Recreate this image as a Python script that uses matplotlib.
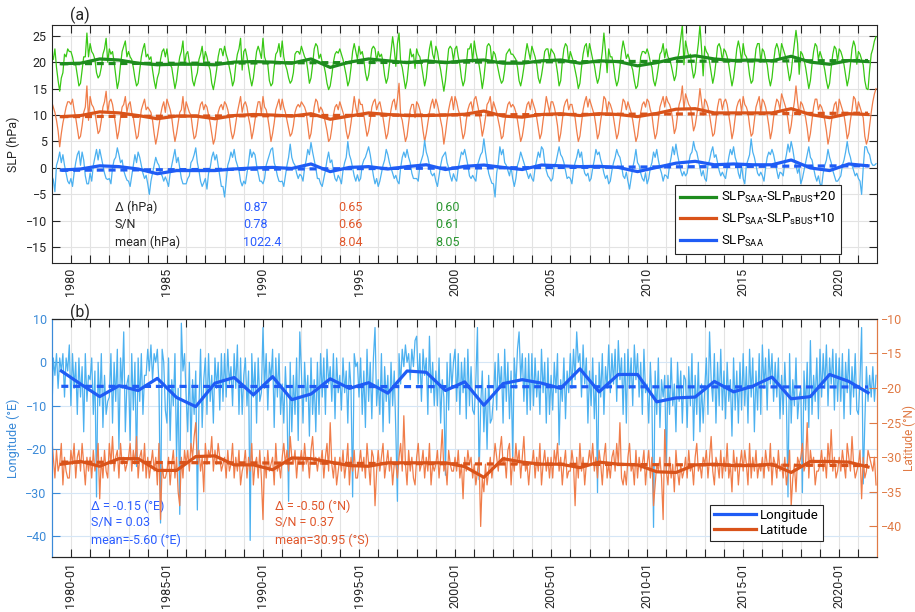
import numpy as np
import matplotlib
matplotlib.use("Agg")
import matplotlib.pyplot as plt

plt.rcParams["font.family"] = ["Roboto", "DejaVu Sans"]
plt.rcParams["mathtext.fontset"] = "custom"
plt.rcParams["mathtext.rm"] = "Roboto"
plt.rcParams["mathtext.it"] = "Roboto:italic"
plt.rcParams["font.size"] = 9

# ---- data (monthly, Jan 1979 .. Dec 2021, one row per year) ------------------
first_year = 1979
years = list(range(1979, 2022))

# SLP_SAA anomaly (hPa)
slp_saa = [
    [-1.5, -2.2, -4.5, 0.5, 1.5, 3.0, 1.0, 2.5, 0.5, -1.0, -2.5, -3.0],
    [-2.0, -3.5, -1.0, 1.0, 2.5, 3.2, 0.5, 3.0, 1.5, -1.5, -3.0, -3.0],
    [-1.0, -2.5, 0.5, 2.0, 3.5, 1.5, 3.5, 2.0, 0.5, -1.0, -2.0, -2.2],
    [-2.0, -3.0, 0.0, 1.5, 2.0, 3.8, 2.5, 1.0, 1.5, -0.5, -1.5, -2.3],
    [-2.5, -3.5, -1.5, 0.5, 2.5, 1.0, 3.0, 2.0, 0.5, -1.0, -2.0, -1.4],
    [-3.0, -5.0, -2.5, -1.0, 0.5, 2.0, 1.0, 0.5, -1.0, -1.5, -2.5, -1.7],
    [-2.5, -3.5, -1.0, 0.5, 2.0, 3.5, 1.0, 2.0, 0.0, -2.0, -3.0, -3.0],
    [-3.0, -2.0, -1.5, 1.0, 1.5, 2.5, 3.8, 1.0, -0.5, -2.5, -3.5, -2.8],
    [-2.0, -4.0, -1.0, 0.0, 2.0, 3.0, 1.5, 2.5, 0.5, -1.5, -3.5, -3.5],
    [-5.5, -2.5, 0.5, 1.5, 3.0, 2.0, 3.5, 1.5, 0.5, -0.5, -2.5, -3.4],
    [-2.5, -3.0, -1.0, 1.0, 3.5, 2.0, 3.0, 2.5, 0.5, -1.0, -2.5, -2.5],
    [-3.0, -2.0, 0.5, 1.5, 2.5, 3.5, 3.8, 1.0, 0.0, -1.5, -2.5, -2.6],
    [-2.5, -3.5, -1.5, 0.5, 2.0, 4.5, 2.0, 1.0, 0.5, -1.0, -2.0, -1.2],
    [-1.5, -2.5, 0.0, 1.5, 3.5, 2.5, 4.8, 3.0, 1.5, 0.0, -2.0, -2.0],
    [-3.0, -3.5, -2.0, -0.5, 1.5, 3.0, 1.0, 1.5, -0.5, -2.0, -2.5, -1.4],
    [-2.0, -3.0, -0.5, 1.0, 2.0, 5.0, 2.5, 1.5, 0.0, -1.5, -2.5, -1.3],
    [-2.5, -2.0, 0.5, 1.5, 2.0, 3.0, 4.0, 2.5, 0.5, -1.5, -3.0, -2.0],
    [-3.5, -2.5, -1.0, 0.5, 1.5, 3.5, 2.5, 1.0, 0.0, -1.0, -2.0, -1.4],
    [-2.5, -3.0, 0.0, 2.0, 3.0, 2.0, 3.5, 2.0, 1.0, -1.0, -2.0, -2.0],
    [-2.0, -2.5, 0.5, 1.5, 2.5, 5.2, 3.0, 2.0, 0.5, -1.0, -1.5, -1.0],
    [-2.5, -3.5, -1.5, 0.5, 2.0, 2.5, 3.0, 1.0, 0.0, -1.5, -2.5, -1.1],
    [-2.0, -2.5, 0.0, 1.5, 3.0, 2.5, 3.5, 2.0, 0.5, -1.5, -2.0, -1.4],
    [-2.0, -2.5, 0.5, 1.5, 2.5, 3.0, 5.5, 3.0, 1.0, -1.0, -2.0, -2.9],
    [-3.0, -5.5, -1.0, 1.0, 4.0, 2.5, 3.5, 1.0, 0.5, -0.5, -1.5, 0.2],
    [-2.0, -3.5, -2.0, 0.5, 1.5, 3.0, 2.0, 1.0, 0.0, -1.0, -2.0, -1.1],
    [-2.0, -2.5, 0.0, 1.5, 3.0, 2.0, 4.0, 3.5, 1.0, -0.5, -1.5, -1.9],
    [-2.5, -2.0, 0.5, 1.0, 2.5, 4.0, 2.5, 2.0, 1.0, -0.5, -2.0, -1.7],
    [-2.0, -3.0, -0.5, 1.0, 2.0, 3.5, 2.0, 3.0, 0.5, -1.0, -1.5, -1.0],
    [-2.5, -2.0, 0.0, 1.5, 3.5, 2.5, 3.0, 1.5, 0.5, -1.0, -2.0, -1.4],
    [-3.0, -2.5, -0.5, 1.0, 2.0, 3.5, 2.5, 2.0, 0.5, -1.5, -2.0, -0.8],
    [-2.5, -4.0, -2.0, 0.0, 1.5, 3.5, 1.0, 0.5, -1.0, -2.0, -2.5, -0.9],
    [-3.0, -2.0, 0.0, 1.0, 3.0, 2.0, 3.5, 1.5, 0.0, -1.0, -2.5, -1.3],
    [-1.5, -2.0, 0.5, 2.0, 4.0, 2.5, 4.5, 2.5, 1.0, -0.5, -1.5, -0.7],
    [-1.5, -1.0, 1.0, 2.5, 3.0, 5.0, 3.5, 3.0, 1.5, 0.0, -1.5, -0.5],
    [-2.0, -2.5, 0.5, 1.5, 3.0, 4.0, 2.0, 2.5, 1.0, -0.5, -1.5, -0.8],
    [-1.5, -2.0, 0.0, 2.0, 3.5, 2.5, 4.0, 2.0, 1.0, -1.0, -2.0, 0.5],
    [-2.0, -3.0, 0.5, 1.5, 2.5, 5.5, 3.0, 2.0, 0.5, -1.0, -1.5, -0.8],
    [-1.5, -2.5, 0.0, 2.0, 3.0, 2.5, 3.5, 2.5, 1.0, -0.5, -2.0, -0.8],
    [-1.0, -1.5, 1.0, 2.5, 4.5, 3.0, 5.0, 3.5, 1.5, 0.5, -1.0, 0.0],
    [-3.0, -2.0, -0.5, 1.0, 2.5, 4.0, 2.0, 1.5, 0.0, -1.5, -2.5, -1.5],
    [-3.0, -3.5, -1.0, 0.5, 1.5, 3.5, 2.0, 1.0, -0.5, -1.5, -2.5, -2.5],
    [-2.0, -1.5, 0.5, 1.5, 3.0, 5.0, 3.0, 2.0, 0.5, -0.5, -1.5, -1.0],
    [-2.0, -2.5, -5.0, 0.0, 4.0, 4.0, 3.0, 2.5, 1.0, 0.5, 0.5, 0.8],
]

# SLP_SAA - SLP_nBUS + 20 (hPa)
slp_nbus = [
    [21.7, 20.5, 22.5, 19.0, 16.5, 14.5, 17.0, 18.0, 21.5, 21.0, 22.5, 22.0],
    [22.0, 21.0, 19.5, 19.5, 17.5, 15.5, 16.0, 18.5, 21.0, 21.0, 25.5, 21.0],
    [23.5, 22.0, 21.5, 20.5, 18.0, 17.0, 17.5, 19.0, 21.5, 22.5, 24.5, 20.0],
    [22.5, 21.5, 22.0, 20.0, 17.5, 15.0, 16.5, 19.5, 22.0, 23.0, 24.0, 21.0],
    [22.0, 21.0, 20.5, 19.0, 17.0, 15.5, 16.0, 18.5, 21.0, 22.5, 23.5, 21.0],
    [21.5, 20.5, 21.0, 18.5, 16.5, 15.0, 17.0, 18.0, 20.5, 22.0, 22.5, 21.0],
    [22.5, 20.0, 19.5, 19.0, 17.0, 15.0, 16.5, 19.0, 21.0, 22.0, 24.0, 19.5],
    [21.5, 22.0, 20.0, 19.5, 16.5, 15.5, 17.0, 18.0, 20.5, 21.5, 23.0, 20.0],
    [22.0, 21.0, 19.5, 18.5, 16.0, 14.8, 16.5, 18.5, 21.0, 22.5, 22.5, 21.2],
    [23.0, 21.5, 20.5, 19.0, 17.5, 15.5, 16.5, 19.5, 21.5, 22.5, 24.5, 18.5],
    [22.0, 22.5, 21.0, 19.0, 17.0, 15.5, 17.0, 19.5, 22.0, 23.0, 22.0, 20.7],
    [24.5, 21.0, 20.0, 19.5, 16.5, 15.5, 16.0, 19.0, 21.5, 22.0, 23.5, 21.0],
    [24.0, 21.0, 19.5, 18.5, 17.0, 16.0, 16.5, 18.0, 21.5, 22.0, 22.0, 21.5],
    [23.0, 22.0, 21.0, 20.5, 18.5, 16.0, 17.0, 19.5, 22.5, 23.5, 23.0, 20.7],
    [21.5, 20.0, 19.5, 18.0, 16.0, 14.8, 15.5, 17.5, 20.0, 21.5, 22.0, 21.7],
    [22.5, 21.5, 20.5, 19.0, 17.5, 15.5, 16.5, 19.0, 22.0, 23.5, 22.0, 20.5],
    [23.0, 21.5, 22.0, 20.5, 18.0, 16.5, 17.5, 20.0, 22.5, 23.0, 22.5, 20.2],
    [22.0, 21.0, 21.5, 20.0, 17.5, 16.0, 17.0, 19.5, 22.0, 24.8, 22.5, 19.2],
    [23.5, 25.5, 20.0, 19.0, 17.0, 15.0, 16.5, 19.5, 22.5, 21.0, 21.5, 18.8],
    [22.5, 21.5, 21.0, 19.5, 17.5, 15.5, 17.0, 20.0, 22.5, 24.0, 21.5, 20.5],
    [23.0, 22.0, 20.0, 18.5, 16.5, 14.5, 16.5, 19.5, 22.5, 23.0, 22.5, 20.3],
    [22.5, 23.0, 21.0, 19.5, 17.0, 15.5, 16.5, 19.5, 22.5, 22.5, 23.5, 20.0],
    [24.0, 22.0, 20.5, 19.5, 17.5, 15.0, 17.0, 20.0, 23.0, 23.5, 23.0, 20.0],
    [22.0, 21.5, 20.0, 18.5, 17.0, 16.0, 16.5, 18.5, 21.5, 22.0, 22.5, 21.5],
    [21.5, 21.0, 20.5, 19.0, 16.5, 15.5, 17.0, 19.0, 21.5, 23.5, 22.0, 20.5],
    [23.0, 22.0, 21.0, 19.5, 17.0, 16.0, 17.5, 19.5, 22.0, 22.5, 22.5, 20.5],
    [22.5, 22.0, 21.5, 20.0, 18.0, 15.5, 16.5, 20.0, 22.5, 23.5, 23.0, 20.0],
    [22.0, 21.0, 20.0, 18.5, 17.0, 15.0, 16.0, 19.0, 21.5, 23.0, 23.5, 21.0],
    [23.5, 22.0, 20.5, 19.5, 17.5, 16.0, 17.0, 19.5, 22.0, 25.5, 22.0, 18.0],
    [22.5, 21.0, 21.0, 19.5, 17.0, 15.5, 16.5, 19.0, 22.0, 24.0, 22.5, 20.7],
    [21.5, 20.5, 19.5, 18.5, 16.5, 15.0, 15.5, 18.0, 21.0, 22.0, 22.0, 21.6],
    [22.5, 21.5, 20.0, 19.0, 16.5, 15.5, 17.0, 19.0, 21.5, 22.0, 23.5, 20.8],
    [22.5, 21.0, 20.5, 19.5, 18.0, 16.5, 17.5, 20.5, 22.0, 24.5, 27.0, 19.5],
    [24.0, 22.5, 21.0, 21.5, 19.0, 17.0, 18.0, 21.0, 23.5, 27.0, 22.5, 17.4],
    [23.0, 22.0, 21.5, 20.0, 18.0, 16.0, 17.5, 20.0, 23.0, 23.5, 22.5, 20.2],
    [22.5, 22.0, 21.0, 19.5, 17.5, 15.5, 17.0, 19.5, 22.5, 24.0, 22.5, 20.1],
    [23.5, 21.5, 21.0, 20.0, 17.5, 16.0, 16.5, 19.5, 22.5, 23.5, 23.5, 20.0],
    [22.5, 22.0, 20.5, 19.5, 17.0, 15.5, 17.0, 20.0, 22.5, 23.5, 22.5, 20.5],
    [23.5, 22.5, 21.5, 20.5, 18.5, 16.5, 18.0, 21.0, 23.5, 26.0, 23.5, 17.7],
    [22.0, 21.5, 20.5, 19.0, 17.0, 15.0, 16.5, 19.5, 22.0, 23.5, 23.0, 20.5],
    [22.0, 21.0, 20.0, 18.5, 16.5, 15.0, 16.0, 19.0, 21.5, 23.0, 22.5, 20.2],
    [22.5, 22.0, 21.0, 19.5, 17.5, 15.5, 17.0, 19.5, 22.5, 24.0, 23.0, 19.6],
    [22.0, 21.5, 20.5, 19.5, 16.5, 15.0, 14.8, 18.5, 21.5, 22.5, 24.0, 24.8],
]

# SLP_SAA - SLP_sBUS + 10 (hPa)
slp_sbus = [
    [12.5, 11.5, 10.5, 9.0, 7.0, 4.0, 6.5, 8.5, 10.0, 11.5, 12.5, 12.5],
    [12.0, 13.0, 11.0, 9.5, 7.5, 5.5, 6.0, 8.0, 10.5, 11.5, 15.5, 9.0],
    [13.5, 12.0, 11.5, 10.5, 8.5, 6.5, 7.0, 9.0, 11.5, 12.5, 14.5, 10.5],
    [12.5, 13.0, 12.0, 10.0, 8.0, 5.5, 7.0, 9.5, 11.5, 12.0, 13.5, 10.5],
    [12.0, 12.5, 10.5, 9.5, 7.5, 5.5, 6.0, 8.5, 11.0, 12.0, 13.0, 11.0],
    [11.5, 11.0, 10.5, 9.0, 6.5, 4.5, 6.0, 8.0, 10.0, 11.5, 12.5, 10.5],
    [13.0, 12.0, 11.0, 9.5, 7.0, 5.0, 6.5, 8.5, 10.5, 11.0, 13.5, 10.0],
    [12.5, 11.5, 10.5, 10.0, 7.5, 5.5, 6.0, 8.0, 10.5, 12.0, 12.5, 11.0],
    [12.0, 11.5, 10.0, 8.5, 6.5, 4.5, 5.5, 8.0, 10.5, 11.5, 12.0, 11.0],
    [12.5, 12.0, 11.0, 9.5, 7.0, 5.5, 6.5, 8.5, 10.5, 12.0, 13.5, 10.5],
    [12.0, 12.5, 11.5, 9.5, 8.0, 5.5, 7.0, 9.0, 11.0, 12.5, 12.5, 10.2],
    [13.5, 11.5, 11.0, 9.5, 7.5, 5.0, 6.5, 8.5, 11.0, 12.0, 13.0, 11.0],
    [13.0, 11.5, 10.5, 9.0, 7.5, 6.0, 6.5, 8.0, 10.5, 11.5, 12.0, 11.5],
    [12.5, 12.0, 11.5, 10.5, 8.0, 5.5, 6.5, 9.0, 11.5, 13.0, 12.5, 10.5],
    [11.5, 11.0, 10.0, 8.5, 7.0, 5.0, 5.5, 7.5, 10.0, 11.5, 12.0, 11.0],
    [12.5, 11.5, 10.5, 9.5, 7.0, 5.5, 6.5, 8.5, 11.0, 13.5, 11.5, 10.0],
    [13.0, 12.0, 12.0, 10.0, 8.0, 6.0, 7.0, 9.0, 11.5, 12.5, 13.0, 11.0],
    [12.0, 12.5, 11.0, 9.5, 7.5, 5.5, 6.5, 9.0, 11.0, 12.5, 13.0, 11.0],
    [13.0, 16.0, 10.0, 9.0, 7.0, 5.0, 6.0, 8.5, 11.0, 12.0, 12.0, 9.5],
    [12.5, 12.0, 11.0, 9.5, 7.0, 5.0, 6.5, 8.5, 10.5, 12.0, 13.0, 11.3],
    [13.0, 12.0, 10.5, 9.0, 7.5, 4.5, 6.5, 9.0, 11.0, 12.5, 13.5, 11.0],
    [13.5, 12.5, 11.0, 10.0, 7.5, 5.5, 6.5, 9.0, 11.0, 12.0, 12.5, 10.8],
    [13.0, 13.5, 12.0, 10.5, 8.5, 6.0, 7.5, 9.5, 12.0, 12.5, 13.5, 10.5],
    [12.5, 11.5, 10.5, 9.0, 7.5, 5.5, 6.0, 8.5, 10.5, 12.0, 12.5, 11.5],
    [12.0, 11.5, 10.5, 9.0, 7.0, 5.0, 6.0, 8.0, 10.5, 12.0, 12.5, 11.0],
    [13.0, 12.0, 11.0, 9.5, 7.5, 5.5, 6.5, 9.0, 11.0, 13.5, 12.0, 10.5],
    [12.5, 12.5, 11.5, 10.0, 8.0, 5.0, 6.5, 9.0, 11.5, 12.5, 13.0, 11.0],
    [12.0, 12.0, 10.5, 9.5, 7.0, 5.0, 6.0, 8.5, 11.0, 12.5, 13.5, 11.5],
    [13.0, 12.0, 11.0, 10.0, 8.0, 5.5, 6.5, 9.0, 11.0, 13.5, 13.0, 10.5],
    [12.5, 12.0, 11.0, 9.5, 7.5, 5.5, 6.5, 9.0, 11.0, 13.0, 12.5, 11.0],
    [12.5, 11.5, 10.5, 9.0, 7.0, 5.0, 6.0, 8.5, 10.5, 12.0, 12.5, 11.5],
    [13.0, 12.5, 11.0, 10.0, 7.5, 5.5, 6.5, 9.0, 11.5, 12.5, 13.5, 11.5],
    [13.5, 12.5, 12.0, 11.0, 9.0, 6.5, 7.5, 10.0, 12.0, 13.0, 15.5, 11.0],
    [14.0, 13.0, 12.0, 11.5, 9.5, 7.0, 8.0, 10.0, 12.0, 15.0, 12.5, 10.0],
    [13.0, 12.5, 11.5, 10.0, 8.0, 6.0, 6.5, 9.0, 11.5, 13.0, 13.0, 11.0],
    [12.5, 13.0, 12.0, 10.0, 8.0, 5.5, 7.0, 9.5, 11.5, 12.5, 13.0, 10.5],
    [13.5, 12.0, 11.5, 10.5, 8.0, 6.0, 6.5, 9.0, 11.5, 12.5, 13.5, 10.5],
    [13.0, 12.5, 11.5, 10.0, 8.0, 5.5, 7.0, 9.5, 11.5, 13.0, 12.5, 11.0],
    [14.0, 13.0, 12.0, 11.0, 9.0, 6.5, 8.0, 10.5, 12.5, 15.5, 12.5, 10.0],
    [12.5, 12.0, 11.0, 9.5, 7.5, 5.0, 6.5, 9.0, 11.5, 13.0, 13.0, 11.0],
    [12.0, 11.5, 10.5, 9.0, 7.0, 4.5, 6.0, 8.5, 10.5, 12.0, 12.5, 10.0],
    [13.0, 12.0, 11.0, 10.0, 8.0, 5.5, 6.5, 9.0, 11.0, 13.5, 13.0, 10.5],
    [12.5, 11.5, 10.5, 9.5, 6.0, 4.5, 5.5, 8.0, 10.5, 12.5, 14.0, 15.0],
]

# SAA centre longitude (deg E)
lon = [
    [-14, 1, -3, 2, -6, 1, -2, 2, -8, 1, -2, 4],
    [-10, 2, -6, 0, -12, 1, -8, -1, -16, 2, -9, -3],
    [-4, 1, -12, -2, -31, 0, -10, 2, -15, -3, -12, -9],
    [-8, 2, -14, 0, -9, 3, -20, 1, -6, 7, -16, -5],
    [-3, -18, 2, -11, 0, -24, 1, -9, 2, -12, -3, -3],
    [3, -2, 4, -4, 2, 0, 3, -5, -37, 3, 0, -11],
    [-14, 1, -18, -4, -10, 2, -22, -6, -35, 9, -2, 2],
    [-8, -16, 0, -20, -4, -12, -2, -34, -10, 3, -15, -4],
    [1, -12, 2, -9, -3, -14, 1, -6, 0, -11, 2, -9],
    [2, -8, 3, -5, -1, -10, 2, -6, 4, -12, 1, -12],
    [-3, 1, -10, -2, -41, 2, -8, 0, -14, 1, -9, -7],
    [8, -6, 2, -11, 0, -4, 3, -15, 1, -8, 2, -12],
    [-5, -14, -1, -10, -32, 0, -16, -3, -12, 1, -18, 7],
    [-2, -14, 0, -9, -3, -17, 1, -12, -4, -16, 0, -12],
    [2, -8, 1, -12, 3, -5, -1, -9, 2, -13, 1, -7],
    [-3, -11, 1, -7, -2, -14, 0, -6, -31, 2, -1, 0],
    [-8, 1, -12, -2, -15, 3, -9, 0, -13, 1, 8, -10],
    [-4, -12, 2, -16, -1, -9, -3, -14, 0, -10, -2, -16],
    [-32, 2, -5, 3, -1, 4, 0, 2, -4, 3, -1, 5],
    [6, -5, 2, -9, 3, -3, 1, -12, 6, -7, 0, -10],
    [-2, -10, 1, -14, -4, -8, -26, 0, -11, 2, -6, 0],
    [3, -9, 2, -12, 0, -7, 1, -13, 3, -10, -1, -11],
    [-12, -4, 8, -27, -10, -2, -16, -6, -20, -3, -14, -13],
    [-8, 0, -11, 2, -6, -1, -14, 3, -9, 0, -13, -2],
    [-22, 1, -6, 3, 7, -4, 2, -9, 1, -12, 2, -11],
    [2, -10, 1, -8, -2, -12, 3, -7, 0, -14, 1, -12],
    [-3, -11, 0, -7, 2, -19, -4, -9, 1, -13, -2, -7],
    [2, -6, 3, -4, 7, 0, 2, -8, 4, -5, 1, -14],
    [-2, -10, 1, -13, -3, -30, 0, -8, 2, -12, -1, -6],
    [4, -7, 2, -5, 3, -9, 5, -4, 1, -12, 2, -14],
    [3, -6, 1, -10, 4, -4, 2, -8, 0, -12, 3, -7],
    [-5, -14, 0, -9, -38, -2, -12, 1, -15, -4, -8, -3],
    [-25, -3, -12, 1, -10, -5, -16, 0, -9, -2, -14, -3],
    [-4, -15, -1, -10, 2, -18, -3, -12, 0, -16, -5, -14],
    [-6, 1, -12, 7, -4, -9, 2, -14, 0, -10, 3, -11],
    [-2, -13, 0, -9, -4, -17, 1, -11, -2, -14, 0, -11],
    [2, -10, -1, -14, 3, -8, 1, -16, -2, -11, 2, -12],
    [4, -6, 1, -11, 3, -5, 2, -9, 0, -8, 1, -13],
    [-3, -12, 0, -9, -31, 2, -14, -4, -10, 1, -13, -8],
    [-6, -30, -2, -11, 0, -15, 5, -12, -3, -9, 1, -13],
    [3, -8, 2, -6, 4, -10, 1, -5, 3, -11, 2, -9],
    [1, -9, 2, -13, 0, -7, 3, -12, -1, -8, 2, -11],
    [-12, -4, 8, -28, -14, -1, -9, -3, -8, -1, -9, -3],
]

# SAA centre latitude (deg N)
lat = [
    [-27, -30, -33, -29, -32, -31, -28, -34, -30, -32, -33, -33],
    [-29, -31, -28, -33, -30, -29, -32, -28, -31, -34, -30, -32],
    [-30, -33, -29, -32, -31, -28, -36, -30, -33, -29, -32, -33],
    [-28, -31, -27, -32, -30, -29, -33, -28, -31, -30, -32, -31],
    [-30, -28, -32, -29, -31, -27, -33, -30, -29, -32, -28, -33],
    [-30, -33, -31, -29, -32, -30, -34, -28, -39, -31, -33, -33],
    [-32, -30, -34, -31, -29, -33, -30, -35, -37, -30, -33, -29],
    [-31, -29, -32, -28, -30, -27, -25, -31, -29, -32, -30, -35],
    [-28, -31, -29, -30, -27, -32, -29, -31, -28, -30, -32, -31],
    [-30, -33, -29, -32, -31, -28, -33, -30, -32, -29, -34, -32],
    [-31, -29, -33, -30, -32, -28, -34, -31, -30, -33, -29, -33],
    [-39, -30, -33, -29, -32, -31, -30, -34, -28, -32, -31, -33],
    [-30, -28, -31, -29, -32, -27, -30, -31, -29, -33, -30, -31],
    [-29, -32, -28, -31, -30, -33, -29, -27, -31, -30, -32, -30],
    [-31, -29, -33, -30, -28, -32, -25, -31, -33, -30, -34, -32],
    [-30, -32, -29, -33, -31, -28, -34, -30, -32, -29, -33, -33],
    [-31, -29, -32, -30, -33, -28, -31, -34, -29, -30, -37, -32],
    [-29, -32, -30, -28, -33, -31, -29, -32, -30, -34, -31, -31],
    [-33, -30, -28, -32, -24, -31, -34, -29, -32, -30, -33, -34],
    [-30, -28, -32, -31, -29, -33, -30, -32, -28, -34, -31, -32],
    [-31, -29, -33, -30, -26, -32, -31, -34, -29, -31, -32, -32],
    [-30, -32, -29, -33, -31, -36, -30, -32, -29, -31, -30, -33],
    [-31, -34, -32, -30, -40, -33, -35, -31, -34, -32, -30, -33],
    [-31, -28, -30, -32, -29, -27, -31, -30, -33, -29, -28, -34],
    [-30, -32, -28, -31, -29, -33, -30, -27, -32, -31, -34, -31],
    [-31, -29, -33, -30, -32, -28, -34, -31, -29, -32, -30, -33],
    [-30, -33, -29, -31, -28, -32, -30, -34, -31, -29, -33, -32],
    [-32, -29, -31, -37, -30, -33, -28, -32, -30, -34, -31, -31],
    [-29, -31, -28, -32, -30, -33, -29, -31, -34, -30, -28, -33],
    [-31, -33, -30, -29, -32, -28, -31, -25, -33, -34, -32, -34],
    [-30, -28, -32, -31, -34, -29, -33, -30, -32, -31, -29, -34],
    [-31, -29, -33, -30, -37, -34, -31, -32, -30, -33, -39, -26],
    [-32, -34, -30, -33, -31, -35, -29, -32, -34, -31, -33, -32],
    [-30, -33, -29, -32, -31, -34, -30, -28, -32, -31, -33, -30],
    [-31, -29, -33, -30, -27, -32, -34, -30, -31, -33, -29, -33],
    [-30, -32, -28, -33, -31, -35, -29, -32, -30, -34, -31, -29],
    [-32, -29, -31, -34, -28, -33, -30, -32, -29, -33, -31, -32],
    [-30, -33, -29, -31, -32, -28, -34, -30, -31, -33, -29, -32],
    [-31, -33, -30, -34, -32, -29, -37, -33, -31, -35, -30, -31],
    [-30, -28, -32, -31, -25, -33, -29, -31, -30, -34, -32, -32],
    [-31, -29, -32, -30, -33, -28, -31, -26, -32, -30, -33, -32],
    [-30, -32, -29, -31, -33, -28, -30, -32, -27, -31, -33, -32],
    [-31, -29, -36, -30, -33, -32, -29, -30, -31, -32, -30, -34],
]

# annual means (thick lines)
slp_saa_ann = [-0.4, -0.2, 0.4, 0.25, -0.2, -1.1, -0.5, -0.5, -0.5, -0.2,
               0.0, 0.1, -0.1, 0.75, -0.7, 0.1, 0.25, -0.2, 0.25, 0.6,
               -0.3, 0.3, 0.55, 0.1, -0.3, 0.55, 0.4, 0.25, 0.3, 0.1,
               -0.7, 0.1, 0.9, 1.25, 0.6, 0.75, 0.6, 0.6, 1.5, 0.0,
               -0.5, 0.75, 0.4]
slp_nbus_ann = [19.7, 19.8, 20.6, 20.4, 19.8, 19.5, 19.6, 19.6, 19.5, 20.0,
                20.1, 20.0, 19.8, 20.6, 19.0, 20.0, 20.6, 20.25, 19.9, 20.25,
                19.9, 20.25, 20.4, 19.8, 19.8, 20.25, 20.4, 19.8, 20.25, 20.1,
                19.3, 19.9, 20.75, 21.2, 20.6, 20.3, 20.4, 20.25, 21.1, 20.0,
                19.6, 20.3, 20.1]
slp_sbus_ann = [9.7, 9.9, 10.6, 10.4, 9.9, 9.3, 9.8, 9.8, 9.3, 9.9,
                10.1, 10.0, 9.8, 10.25, 9.2, 9.8, 10.4, 10.1, 9.9, 9.9,
                10.0, 10.15, 10.75, 9.8, 9.6, 10.1, 10.25, 9.9, 10.25, 10.1,
                9.7, 10.3, 11.1, 11.2, 10.4, 10.4, 10.4, 10.4, 11.2, 10.1,
                9.5, 10.25, 10.1]
lon_ann = [-2.0, -5.0, -7.9, -5.4, -6.5, -3.7, -8.1, -10.2, -4.8, -3.5,
           -7.5, -3.3, -8.6, -7.3, -3.8, -6.0, -4.7, -7.1, -2.0, -2.3,
           -6.5, -4.5, -9.9, -4.9, -4.0, -4.8, -6.0, -1.5, -6.8, -2.8,
           -2.8, -9.1, -8.2, -8.0, -4.4, -6.8, -5.5, -3.4, -8.4, -7.9,
           -2.8, -4.4, -7.0]
lat_ann = [-31.0, -30.6, -31.3, -30.2, -30.2, -31.9, -31.9, -29.9, -29.8, -31.1,
           -31.1, -31.8, -30.1, -30.2, -30.7, -31.2, -31.3, -30.8, -30.8, -30.8,
           -30.8, -31.35, -32.9, -30.2, -30.7, -31.0, -31.0, -31.5, -30.7, -31.0,
           -31.1, -32.1, -32.2, -31.1, -31.0, -31.2, -31.2, -31.0, -32.2, -30.6,
           -30.6, -30.7, -31.4]

# linear trend, value at first and last annual point (dashed lines)
slp_saa_trend = [-0.45, 0.42]
slp_nbus_trend = [19.7, 20.3]
slp_sbus_trend = [9.7, 10.35]
lon_trend = [-5.53, -5.68]
lat_trend = [-30.7, -31.2]

# stats printed on the panels
stat_rows = ["\u0394 (hPa)", "S/N", "mean (hPa)"]
stats_saa = ["0.87", "0.78", "1022.4"]
stats_sbus = ["0.65", "0.66", "8.04"]
stats_nbus = ["0.60", "0.61", "8.05"]
lon_stats = ["\u0394 = -0.15 (\u00b0E)", "S/N = 0.03", "mean=-5.60 (\u00b0E)"]
lat_stats = ["\u0394 = -0.50 (\u00b0N)", "S/N = 0.37", "mean=30.95 (\u00b0S)"]

# ---- colours ---------------------------------------------------------------
BLUE_L, BLUE_D = "#4cb1f0", "#1f5cf5"
ORNG_L, ORNG_D = "#f07d4a", "#d9531a"
GRN_L, GRN_D = "#38c814", "#1e8c1e"
BLUE_TXT, ORNG_TXT, GRN_TXT = "#2a5cff", "#e0562a", "#2a9630"
BLUE_AX, ORNG_AX = "#3a8ad8", "#e07a45"
DARK = "#262626"
GRID = "#e3e3e3"

t = first_year + np.arange(len(years) * 12) / 12.0
ty = np.array(years) + 0.5
tt = [ty[0], ty[-1]]

LW_M, LW_A = 0.9, 2.3
DASH = (0, (2.2, 1.5))

fig = plt.figure(figsize=(9.15, 6.12), dpi=100)

# ---- (a) SLP -----------------------------------------------------------------
ax = fig.add_axes([0.0565, 0.570, 0.9016, 0.389])
ax.set_axisbelow(True)
for monthly, cl in [(slp_nbus, GRN_L), (slp_sbus, ORNG_L), (slp_saa, BLUE_L)]:
    ax.plot(t, np.ravel(monthly), color=cl, lw=LW_M)
handles = []
for ann, trend, cd in [(slp_nbus_ann, slp_nbus_trend, GRN_D),
                       (slp_sbus_ann, slp_sbus_trend, ORNG_D),
                       (slp_saa_ann, slp_saa_trend, BLUE_D)]:
    ax.plot(tt, trend, color=cd, lw=LW_A, ls=DASH)
    h, = ax.plot(ty, ann, color=cd, lw=LW_A)
    handles.append(h)

ax.set_xlim(1979.0, 2021.95)
ax.set_ylim(-18, 27)
ax.set_yticks(range(-15, 26, 5))
xt = np.arange(1980, 2022)
ax.set_xticks(xt)
ax.set_xticklabels([str(y) if y % 5 == 0 else "" for y in xt], rotation=90)
ax.grid(True, color=GRID, lw=0.8)
ax.tick_params(direction="in", length=6, width=0.8, top=True, right=True,
               colors=DARK, pad=3.5)
for s in ax.spines.values():
    s.set_color(DARK)
    s.set_linewidth(0.8)
ax.set_ylabel("SLP (hPa)", color=DARK, labelpad=4)

for i, row in enumerate(stat_rows):
    y = [0.235, 0.164, 0.088][i]
    ax.text(0.0767, y, row, transform=ax.transAxes, va="center", color=DARK)
    ax.text(0.2319, y, stats_saa[i], transform=ax.transAxes, va="center", color=BLUE_TXT)
    ax.text(0.3469, y, stats_sbus[i], transform=ax.transAxes, va="center", color=ORNG_TXT)
    ax.text(0.4645, y, stats_nbus[i], transform=ax.transAxes, va="center", color=GRN_TXT)

leg = ax.legend(handles, [r"SLP$_{\mathrm{SAA}}$-SLP$_{\mathrm{nBUS}}$+20",
                          r"SLP$_{\mathrm{SAA}}$-SLP$_{\mathrm{sBUS}}$+10",
                          r"SLP$_{\mathrm{SAA}}$"],
                loc="lower right", bbox_to_anchor=(0.9567, 0.038), borderaxespad=0,
                fancybox=False, framealpha=1, edgecolor=DARK, handlelength=2.7,
                handletextpad=0.35, labelspacing=0.5, borderpad=0.4, fontsize=9.5)
leg.get_frame().set_linewidth(0.8)

fig.text(0.0874, 0.9755, "(a)", ha="center", va="center", fontsize=11.5, color=DARK)

# ---- (b) SAA centre position ------------------------------------------------
bx = fig.add_axes([0.0565, 0.090, 0.9016, 0.389])
bx.set_axisbelow(True)
bx.plot(t, np.ravel(lon), color=BLUE_L, lw=LW_M)
bx.plot(tt, lon_trend, color=BLUE_D, lw=LW_A, ls=DASH)
h_lon, = bx.plot(ty, lon_ann, color=BLUE_D, lw=LW_A)
bx.set_xlim(1979.0, 2021.95)
bx.set_ylim(-44.8, 10)
bx.set_yticks(range(-40, 11, 10))
bx.set_xticks(xt)
bx.set_xticklabels([f"{y}-01" if y % 5 == 0 else "" for y in xt], rotation=90)
bx.grid(True, axis="x", color=GRID, lw=0.8)
bx.grid(True, axis="y", color="#d5e6f6", lw=0.8)
bx.tick_params(axis="x", direction="in", length=6, width=0.8, top=True,
               colors=DARK, pad=4)
bx.tick_params(axis="y", direction="in", length=6, width=0.8, colors=BLUE_AX, pad=3.5)
bx.set_ylabel("Longitude (\u00b0E)", color=BLUE_AX, labelpad=4)

cx = bx.twinx()
cx.plot(t, np.ravel(lat), color=ORNG_L, lw=LW_M)
cx.plot(tt, lat_trend, color=ORNG_D, lw=LW_A, ls=DASH)
h_lat, = cx.plot(ty, lat_ann, color=ORNG_D, lw=LW_A)
cx.set_ylim(-44.4, -10)
cx.set_yticks(range(-40, -9, 5))
cx.tick_params(axis="y", direction="in", length=6, width=0.8, colors=ORNG_AX, pad=3)
cx.set_ylabel("Latitude (\u00b0N)", color=ORNG_AX, labelpad=0.5, fontsize=8.5)

for a in (bx, cx):
    for side in ("top", "bottom"):
        a.spines[side].set_color(DARK)
    a.spines["left"].set_color(BLUE_AX)
    a.spines["right"].set_color(ORNG_AX)
    for s in a.spines.values():
        s.set_linewidth(0.8)

for i in range(3):
    y = [0.214, 0.144, 0.071][i]
    bx.text(0.0473, y, lon_stats[i], transform=bx.transAxes, va="center", color=BLUE_TXT)
    bx.text(0.2707, y, lat_stats[i], transform=bx.transAxes, va="center", color=ORNG_TXT)

leg2 = cx.legend([h_lon, h_lat], ["Longitude", "Latitude"], loc="lower right",
                 bbox_to_anchor=(0.935, 0.068), borderaxespad=0, fancybox=False,
                 framealpha=1, edgecolor=DARK, handlelength=3.2, handletextpad=0.3,
                 labelspacing=0.15, borderpad=0.3, fontsize=9.5)
leg2.get_frame().set_linewidth(0.8)

fig.text(0.0874, 0.4902, "(b)", ha="center", va="center", fontsize=11.5, color=DARK)

fig.savefig("out.png", dpi=100)
